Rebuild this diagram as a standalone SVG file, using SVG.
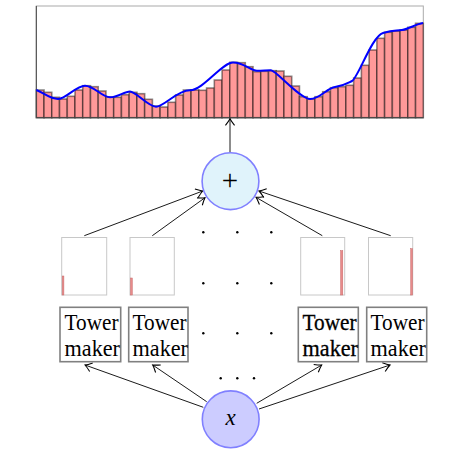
<svg xmlns="http://www.w3.org/2000/svg" width="456" height="459" viewBox="0 0 456 459">
<style>
.bar{fill:#ff9999;stroke:#000;stroke-opacity:0.45;stroke-width:1.6}
.conn{stroke:#000;stroke-width:0.9;fill:none;marker-end:url(#arr)}
.mini{fill:#fff;stroke:#c8c8c8;stroke-width:1}
.mbar{fill:#e88a8a;stroke:#c86a6a;stroke-width:0.5}
.tm{fill:#fff;stroke:#808080;stroke-width:1.6}
.tt{font-family:"Liberation Serif","DejaVu Serif",serif;font-size:23px;fill:#000}
.dot{fill:#000}
</style>
<defs>
<marker id="arr" markerUnits="userSpaceOnUse" markerWidth="12" markerHeight="12" viewBox="-7 -5 9 10" refX="0" refY="0" orient="auto">
<path d="M-5.5,-3.8 Q-2,-1 0,0 Q-2,1 -5.5,3.8" fill="none" stroke="#000" stroke-width="0.9"/>
</marker>
</defs>
<rect width="456" height="459" fill="#fff"/>
<g id="plot">
<rect x="36.3" y="6" width="387" height="111.7" fill="#fff" stroke="#aaa" stroke-width="1"/>
<g id="bars">
<rect class="bar" x="36.30" y="90" width="7.74" height="27.7"/>
<rect class="bar" x="44.04" y="92.3" width="7.74" height="25.4"/>
<rect class="bar" x="51.78" y="97.3" width="7.74" height="20.4"/>
<rect class="bar" x="59.52" y="99" width="7.74" height="18.7"/>
<rect class="bar" x="67.26" y="96.3" width="7.74" height="21.4"/>
<rect class="bar" x="75.00" y="90" width="7.74" height="27.7"/>
<rect class="bar" x="82.74" y="85.7" width="7.74" height="32"/>
<rect class="bar" x="90.48" y="86.7" width="7.74" height="31"/>
<rect class="bar" x="98.22" y="91" width="7.74" height="26.7"/>
<rect class="bar" x="105.96" y="97" width="7.74" height="20.7"/>
<rect class="bar" x="113.70" y="97.3" width="7.74" height="20.4"/>
<rect class="bar" x="121.44" y="94.7" width="7.74" height="23"/>
<rect class="bar" x="129.18" y="92.3" width="7.74" height="25.4"/>
<rect class="bar" x="136.92" y="93.7" width="7.74" height="24"/>
<rect class="bar" x="144.66" y="99.3" width="7.74" height="18.4"/>
<rect class="bar" x="152.40" y="106" width="7.74" height="11.7"/>
<rect class="bar" x="160.14" y="107" width="7.74" height="10.7"/>
<rect class="bar" x="167.88" y="102.3" width="7.74" height="15.4"/>
<rect class="bar" x="175.62" y="95" width="7.74" height="22.7"/>
<rect class="bar" x="183.36" y="90" width="7.74" height="27.7"/>
<rect class="bar" x="191.10" y="90" width="7.74" height="27.7"/>
<rect class="bar" x="198.84" y="90.3" width="7.74" height="27.4"/>
<rect class="bar" x="206.58" y="88" width="7.74" height="29.7"/>
<rect class="bar" x="214.32" y="80" width="7.74" height="37.7"/>
<rect class="bar" x="222.06" y="70" width="7.74" height="47.7"/>
<rect class="bar" x="229.80" y="62.3" width="7.74" height="55.4"/>
<rect class="bar" x="237.54" y="62.7" width="7.74" height="55"/>
<rect class="bar" x="245.28" y="66.7" width="7.74" height="51"/>
<rect class="bar" x="253.02" y="71.7" width="7.74" height="46"/>
<rect class="bar" x="260.76" y="71.3" width="7.74" height="46.4"/>
<rect class="bar" x="268.50" y="70.7" width="7.74" height="47"/>
<rect class="bar" x="276.24" y="71" width="7.74" height="46.7"/>
<rect class="bar" x="283.98" y="76.3" width="7.74" height="41.4"/>
<rect class="bar" x="291.72" y="86" width="7.74" height="31.7"/>
<rect class="bar" x="299.46" y="96.7" width="7.74" height="21"/>
<rect class="bar" x="307.20" y="99" width="7.74" height="18.7"/>
<rect class="bar" x="314.94" y="96.7" width="7.74" height="21"/>
<rect class="bar" x="322.68" y="91.7" width="7.74" height="26"/>
<rect class="bar" x="330.42" y="87.7" width="7.74" height="30"/>
<rect class="bar" x="338.16" y="86.7" width="7.74" height="31"/>
<rect class="bar" x="345.90" y="85.3" width="7.74" height="32.4"/>
<rect class="bar" x="353.64" y="78" width="7.74" height="39.7"/>
<rect class="bar" x="361.38" y="65.3" width="7.74" height="52.4"/>
<rect class="bar" x="369.12" y="50" width="7.74" height="67.7"/>
<rect class="bar" x="376.86" y="38.3" width="7.74" height="79.4"/>
<rect class="bar" x="384.60" y="32.3" width="7.74" height="85.4"/>
<rect class="bar" x="392.34" y="31" width="7.74" height="86.7"/>
<rect class="bar" x="400.08" y="30" width="7.74" height="87.7"/>
<rect class="bar" x="407.82" y="27.3" width="7.74" height="90.4"/>
<rect class="bar" x="415.56" y="23.3" width="7.74" height="94.4"/>
</g>
<path d="M36.3,117.7 L423.3,117.7 M36.3,6 L36.3,117.7" stroke="#444" stroke-width="1" fill="none"/>
<path d="M36.3,90 C44,93 50,99 58,99 S76,85.7 85,85.7 S102,97.3 110,97.3 S124,91.5 130,91.5 S148,106.7 156,106.7 S177,90.3 190,90.3 S222,62.5 233,62.5 S251,70.7 257,70.7 S266,70.3 271,70.3 S300,99 310,99 S327,88 335,87 S346,84 352,81 S372,36 383,33 S395,31 402,30 S416,24 423,23" fill="none" stroke="#0000ff" stroke-width="2"/>
</g>
<g id="connectors">
<line class="conn" x1="230" y1="152.7" x2="230" y2="118.8"/>
<line class="conn" x1="84.3" y1="235.7" x2="202.7" y2="191"/>
<line class="conn" x1="152.3" y1="235.7" x2="205" y2="197.7"/>
<line class="conn" x1="322.3" y1="235.7" x2="256" y2="197.3"/>
<line class="conn" x1="390.7" y1="235.7" x2="259" y2="191"/>
<line class="conn" x1="203.3" y1="407.3" x2="85" y2="365"/>
<line class="conn" x1="206.7" y1="401.7" x2="152.7" y2="365"/>
<line class="conn" x1="256.7" y1="403.3" x2="321.7" y2="365"/>
<line class="conn" x1="259" y1="409" x2="390" y2="365"/>
</g>
<g id="sum">
<circle cx="230.5" cy="181.2" r="28.4" fill="#e0f3fb" stroke="#8080ff" stroke-width="1.6"/>
<text x="230" y="189.5" text-anchor="middle" class="tt" style="font-size:29px;font-weight:300">+</text>
</g>
<g id="out1"><rect class="mini" x="61.7" y="237.5" width="45" height="57.5"/><rect class="mbar" x="62.2" y="276" width="1.7" height="19"/></g>
<g id="out2"><rect class="mini" x="130" y="237.5" width="44.3" height="57.5"/><rect class="mbar" x="130.5" y="278" width="1.8" height="17"/></g>
<g id="out3"><rect class="mini" x="300.7" y="237.5" width="44" height="57.5"/><rect class="mbar" x="340.6" y="250.7" width="2.2" height="44.3"/></g>
<g id="out4"><rect class="mini" x="368.5" y="237.5" width="44.2" height="57.5"/><rect class="mbar" x="410.7" y="248.7" width="1.8" height="46.3"/></g>
<g id="dots">
<circle class="dot" cx="203.3" cy="232.3" r="1.2"/><circle class="dot" cx="237.3" cy="232.3" r="1.2"/><circle class="dot" cx="271.3" cy="232.3" r="1.2"/>
<circle class="dot" cx="203.3" cy="283.3" r="1.2"/><circle class="dot" cx="237.3" cy="283.3" r="1.2"/><circle class="dot" cx="271.3" cy="283.3" r="1.2"/>
<circle class="dot" cx="203.3" cy="333.3" r="1.2"/><circle class="dot" cx="237.3" cy="333.3" r="1.2"/><circle class="dot" cx="271.3" cy="333.3" r="1.2"/>
<circle class="dot" cx="220.7" cy="378.3" r="1.2"/><circle class="dot" cx="237.3" cy="378.3" r="1.2"/><circle class="dot" cx="254" cy="378.3" r="1.2"/>
</g>
<g id="tower1"><rect class="tm" x="60" y="307.3" width="60.7" height="54.4"/><text class="tt" x="64.5" y="329.5" textLength="54" lengthAdjust="spacingAndGlyphs">Tower</text><text class="tt" x="64.5" y="356" textLength="55.5" lengthAdjust="spacingAndGlyphs">maker</text></g>
<g id="tower2"><rect class="tm" x="128.7" y="307.3" width="59.3" height="54.4"/><text class="tt" x="132.5" y="329.5" textLength="54" lengthAdjust="spacingAndGlyphs">Tower</text><text class="tt" x="132.5" y="356" textLength="55.5" lengthAdjust="spacingAndGlyphs">maker</text></g>
<g id="tower3"><rect class="tm" x="298.3" y="307.3" width="60" height="54.4"/><text class="tt" x="302.5" y="329.5" textLength="54" lengthAdjust="spacingAndGlyphs" stroke="#000" stroke-width="0.3">Tower</text><text class="tt" x="302.5" y="356" textLength="55.5" lengthAdjust="spacingAndGlyphs" stroke="#000" stroke-width="0.3">maker</text></g>
<g id="tower4"><rect class="tm" x="366.7" y="307.3" width="60" height="54.4"/><text class="tt" x="370.5" y="329.5" textLength="54" lengthAdjust="spacingAndGlyphs">Tower</text><text class="tt" x="370.5" y="356" textLength="55.5" lengthAdjust="spacingAndGlyphs">maker</text></g>
<g id="input">
<circle cx="230.7" cy="419.3" r="28.4" fill="#ccccff" stroke="#8080ff" stroke-width="1.6"/>
<text x="230.5" y="425" text-anchor="middle" class="tt" style="font-style:italic;font-size:23px">x</text>
</g>
</svg>
